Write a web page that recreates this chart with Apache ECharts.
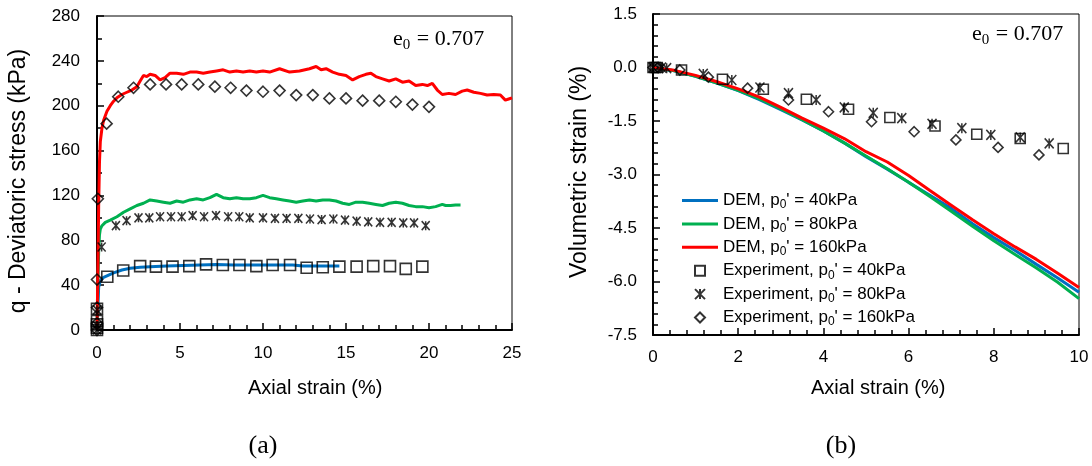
<!DOCTYPE html>
<html>
<head>
<meta charset="utf-8">
<script src="https://cdn.jsdelivr.net/npm/echarts@6/dist/echarts.min.js"></script>
<style>
html,body{margin:0;padding:0;background:#fff;}
#chart{width:1092px;height:466px;}
</style>
</head>
<body>
<div id="chart"></div>
<script>
// ---------- (a) deviatoric stress vs axial strain ----------
const qDem40 = [[0,0],[0.05,20],[0.1,38],[0.2,44],[0.4,47],[0.7,49],[1.0,51],[1.5,53.5],[2.0,55],[2.6,56],[3.2,56.5],[4.2,57],[5.2,57.5],[6.2,58],[7.2,58.5],[8.2,58],[9.2,58],[10.2,58],[11.2,58],[11.8,58],[12.4,57],[13.2,57],[14.0,57],[14.6,57]];
const qDem80 = [[0,0],[0.05,40],[0.1,70],[0.15,85],[0.2,90],[0.3,93],[0.5,96],[0.8,98],[1.2,101],[1.6,105],[2.0,108],[2.4,111],[2.8,113],[3.2,116],[3.6,115],[4.0,114],[4.4,113],[4.8,115],[5.2,114],[5.6,116],[6.0,117],[6.4,116],[6.8,118],[7.2,121],[7.6,118],[8.0,117],[8.4,118],[8.8,117],[9.2,117],[9.6,118],[10.0,120],[10.4,118],[10.8,117],[11.2,116],[11.6,115],[12.0,114],[12.4,115],[12.8,116],[13.2,115],[13.6,116],[14.0,116],[14.4,115],[14.8,113],[15.2,112],[15.6,114],[16.0,114],[16.4,113],[16.8,112],[17.2,111],[17.6,113],[18.0,114],[18.4,113],[18.8,111],[19.2,110],[19.6,110],[20.0,109],[20.4,110],[20.8,112],[21.0,111],[21.3,111],[21.6,111.5],[21.9,111.5]];
const qDem160 = [[0,0],[0.05,50],[0.1,110],[0.15,150],[0.2,168],[0.3,180],[0.4,187],[0.6,195],[0.8,200],[1.0,204],[1.2,207],[1.5,210],[1.8,212],[2.1,214],[2.4,217],[2.6,222],[2.8,227],[3.0,226],[3.2,228],[3.5,227],[3.8,223],[4.1,225],[4.4,229],[4.8,229],[5.2,228],[5.6,230],[6.0,230],[6.4,229],[6.8,230],[7.2,231],[7.6,232],[8.0,230],[8.4,231],[8.8,230],[9.2,231],[9.6,230],[10.0,231],[10.4,230],[11.0,233],[11.6,230],[12.2,231],[12.8,233],[13.2,235],[13.5,232],[13.8,233],[14.2,230],[14.6,228],[15.0,227],[15.4,223],[15.8,226],[16.2,228],[16.5,229],[16.8,226],[17.2,224],[17.6,222],[18.0,224],[18.4,221],[18.8,222],[19.2,218],[19.6,219],[19.9,218],[20.2,220],[20.5,214],[20.8,210],[21.2,211],[21.6,210],[22.0,213],[22.3,214],[22.7,212],[23.1,211],[23.5,209.5],[23.9,210],[24.3,209.5],[24.6,205],[24.8,206],[25,207]];
const qExp40 = [[0,0],[0,2],[0,5],[0,8],[0,19],[0.62,47.5],[1.58,53],[2.6,57],[3.55,56.5],[4.55,56.5],[5.56,57],[6.57,58.5],[7.58,58],[8.58,58],[9.6,57],[10.58,58],[11.63,58],[12.63,55.5],[13.6,56],[14.6,56.5],[15.64,56.5],[16.64,57],[17.65,57],[18.6,54.5],[19.6,56.5]];
const qExp80 = [[0,0],[0,4],[0,18],[0.28,74],[1.14,93],[1.78,97.5],[2.5,100],[3.15,100],[3.8,101],[4.46,101],[5.1,101],[5.76,102],[6.45,101],[7.17,102],[7.9,101],[8.57,101],[9.2,100],[10.0,100],[10.72,99.5],[11.42,99.5],[12.13,99.5],[12.83,99],[13.53,98.5],[14.24,99],[14.94,98],[15.64,97],[16.34,96.5],[17.05,96],[17.75,96],[18.45,95.5],[19.1,95.5],[19.8,93]];
const qExp160 = [[0,0],[0,6],[0,20],[0,45],[0.05,117],[0.58,184],[1.28,208],[2.2,216],[3.2,219],[4.16,219],[5.1,219],[6.1,219],[7.1,217],[8.05,216],[9.0,213.5],[10.0,212.5],[11.0,213.5],[12.0,209.5],[13.0,209.5],[14.0,206.5],[15.0,206.5],[16.0,204.5],[17.0,204.5],[18.0,203.5],[19.0,201],[20.0,199]];

// ---------- (b) volumetric strain vs axial strain ----------
const vDem40 = [[0,0],[0.5,-0.09],[1,-0.25],[1.5,-0.44],[2,-0.65],[2.5,-0.9],[3,-1.18],[3.5,-1.47],[4,-1.78],[4.5,-2.12],[5,-2.5],[5.5,-2.85],[6,-3.22],[6.5,-3.58],[7,-3.95],[7.5,-4.38],[8,-4.77],[8.5,-5.13],[9,-5.52],[9.5,-5.9],[10,-6.3]];
const vDem80 = [[0,0],[0.5,-0.09],[1,-0.25],[1.5,-0.44],[2,-0.64],[2.5,-0.88],[3,-1.16],[3.5,-1.46],[4,-1.78],[4.5,-2.12],[5,-2.48],[5.5,-2.84],[6,-3.22],[6.5,-3.62],[7,-4.03],[7.5,-4.45],[8,-4.86],[8.5,-5.24],[9,-5.62],[9.5,-6.02],[10,-6.48]];
const vDem160 = [[0,0],[0.5,-0.08],[1,-0.22],[1.5,-0.4],[2,-0.6],[2.5,-0.83],[3,-1.12],[3.5,-1.42],[4,-1.7],[4.5,-2.0],[5,-2.36],[5.5,-2.65],[6,-3.03],[6.5,-3.45],[7,-3.86],[7.5,-4.27],[8,-4.66],[8.5,-5.03],[9,-5.38],[9.5,-5.77],[10,-6.17]];
const vExp40 = [[0,0],[0.05,0],[0.1,0],[0.67,-0.07],[1.63,-0.33],[2.59,-0.61],[3.6,-0.89],[4.59,-1.17],[5.56,-1.4],[6.62,-1.64],[7.6,-1.87],[8.62,-1.99],[9.63,-2.27]];
const vExp80 = [[0,0],[0.2,0],[0.32,-0.02],[1.18,-0.18],[1.85,-0.35],[2.51,-0.56],[3.18,-0.72],[3.83,-0.91],[4.49,-1.12],[5.17,-1.27],[5.84,-1.42],[6.55,-1.58],[7.25,-1.7],[7.93,-1.89],[8.62,-1.96],[9.3,-2.13]];
const vExp160 = [[0,0],[0.12,0],[0.63,-0.07],[1.3,-0.27],[2.22,-0.58],[3.18,-0.91],[4.12,-1.24],[5.13,-1.52],[6.13,-1.8],[7.11,-2.03],[8.1,-2.24],[9.06,-2.45]];

const legendNames = ["DEM, p0' = 40kPa","DEM, p0' = 80kPa","DEM, p0' = 160kPa","Experiment, p0' = 40kPa","Experiment, p0' = 80kPa","Experiment, p0' = 160kPa"];

const BLUE = '#0070C0', GREEN = '#00B050', RED = '#FF0000';
const FONT = 'Liberation Sans, Arial, sans-serif';
const SERIF = 'Liberation Serif, Times New Roman, serif';
const STAR = 'path://M0,0L10,10M10,0L0,10M5,0L5,10';
const SQUARE = 'path://M0,0L10,0L10,10L0,10Z';
const DIAMOND = 'path://M5,0L10,5L5,10L0,5Z';
const LINEICON = 'path://M0,0L36,0L36,3L0,3Z';

function axisCommon(extra) {
  return Object.assign({
    type: 'value',
    axisLine: {show: true, onZero: false, lineStyle: {color: '#000', width: 2}},
    axisTick: {show: true, inside: true, length: 7, lineStyle: {color: '#000', width: 1.5}},
    minorTick: {show: true, length: 5, lineStyle: {color: '#000', width: 1.5}},
    splitLine: {show: false},
    axisLabel: {color: '#000', fontFamily: FONT, fontSize: 17}
  }, extra);
}
function minor(n) { return {show: true, splitNumber: n, length: 5, lineStyle: {color: '#000', width: 1.5}}; }
function label(margin, fmt) {
  const o = {color: '#000', fontFamily: FONT, fontSize: 17, margin};
  if (fmt) o.formatter = fmt;
  return o;
}

function lineSeries(name, data, color, xi) {
  return {name, type: 'line', data, xAxisIndex: xi, yAxisIndex: xi, symbol: 'none', showSymbol: false,
    lineStyle: {color, width: 3}, itemStyle: {color}, z: 2};
}
function expSeries(name, data, symbol, size, xi) {
  return {name, type: 'scatter', data, xAxisIndex: xi, yAxisIndex: xi, symbol, symbolSize: size,
    itemStyle: {color: 'rgba(0,0,0,0)', borderColor: '#000', borderWidth: 1.6}, z: 3};
}

const chart = echarts.init(document.getElementById('chart'), null, {renderer: 'canvas'});

const option = {
  backgroundColor: '#fff',
  animation: false,
  grid: [
    {left: 97, top: 16, width: 415, height: 314, show: true, borderColor: '#000', borderWidth: 1, backgroundColor: 'transparent'},
    {left: 653, top: 14, width: 426, height: 321, show: true, borderColor: '#000', borderWidth: 1, backgroundColor: 'transparent'}
  ],
  xAxis: [
    axisCommon({gridIndex: 0, min: 0, max: 25, interval: 5, minorTick: minor(5), axisLabel: label(15)}),
    axisCommon({gridIndex: 1, min: 0, max: 10, interval: 2, minorTick: minor(5), axisLabel: label(14)})
  ],
  yAxis: [
    axisCommon({gridIndex: 0, min: 0, max: 280, interval: 40, minorTick: minor(2), axisLabel: label(17)}),
    axisCommon({gridIndex: 1, min: -7.5, max: 1.5, interval: 1.5, minorTick: minor(5), axisLabel: label(16, v => v.toFixed(1))})
  ],
  legend: {
    show: true,
    orient: 'vertical',
    left: 682, top: 190, padding: 0,
    itemWidth: 36, itemHeight: 10, itemGap: 2.4,
    data: [
      {name: legendNames[0], icon: LINEICON, itemStyle: {color: BLUE}},
      {name: legendNames[1], icon: LINEICON, itemStyle: {color: GREEN}},
      {name: legendNames[2], icon: LINEICON, itemStyle: {color: RED}},
      {name: legendNames[3], icon: SQUARE},
      {name: legendNames[4], icon: STAR},
      {name: legendNames[5], icon: DIAMOND}
    ],
    formatter: n => n.replace('p0', 'p{s|0}'),
    textStyle: {color: '#000', fontFamily: FONT, fontSize: 17, lineHeight: 20,
      rich: {s: {fontFamily: FONT, fontSize: 12, lineHeight: 20, padding: [9, 0, 0, 0]}}}
  },
  series: [
    lineSeries(legendNames[0], qDem40, BLUE, 0),
    lineSeries(legendNames[1], qDem80, GREEN, 0),
    lineSeries(legendNames[2], qDem160, RED, 0),
    expSeries(legendNames[3], qExp40, SQUARE, 11, 0),
    expSeries(legendNames[4], qExp80, STAR, [8, 9], 0),
    expSeries(legendNames[5], qExp160, DIAMOND, 11, 0),
    lineSeries(legendNames[0], vDem40, BLUE, 1),
    lineSeries(legendNames[1], vDem80, GREEN, 1),
    lineSeries(legendNames[2], vDem160, RED, 1),
    expSeries(legendNames[3], vExp40, SQUARE, 10, 1),
    expSeries(legendNames[4], vExp80, STAR, [9, 10], 1),
    expSeries(legendNames[5], vExp160, DIAMOND, 10, 1)
  ],
  graphic: [
    {type: 'text', left: 321 - 73, top: 378, style: {text: 'Axial strain (%)', fontFamily: FONT, fontSize: 20, fill: '#000'}},
    {type: 'text', left: 884 - 73, top: 378, style: {text: 'Axial strain (%)', fontFamily: FONT, fontSize: 20, fill: '#000'}},
    {type: 'text', x: 19, y: 181, rotation: Math.PI / 2, style: {text: 'q - Deviatoric stress (kPa)', fontFamily: FONT, fontSize: 23, fill: '#000', align: 'center', verticalAlign: 'middle'}},
    {type: 'text', x: 580, y: 172, rotation: Math.PI / 2, style: {text: 'Volumetric strain (%)', fontFamily: FONT, fontSize: 23, fill: '#000', align: 'center', verticalAlign: 'middle'}},
    {type: 'text', x: 393, y: 28, style: {text: '{a|e}{s|0}{a| = 0.707}', rich: {a: {fontFamily: SERIF, fontSize: 22, fill: '#000', verticalAlign: 'top'}, s: {fontFamily: SERIF, fontSize: 15, fill: '#000', padding: [10, 1, 0, 0], verticalAlign: 'top'}}}},
    {type: 'text', x: 972, y: 23, style: {text: '{a|e}{s|0}{a| = 0.707}', rich: {a: {fontFamily: SERIF, fontSize: 22, fill: '#000', verticalAlign: 'top'}, s: {fontFamily: SERIF, fontSize: 15, fill: '#000', padding: [10, 1, 0, 0], verticalAlign: 'top'}}}},
    {type: 'text', x: 263, y: 446, style: {text: '(a)', fontFamily: SERIF, fontSize: 26, fill: '#000', align: 'center', verticalAlign: 'middle'}},
    {type: 'text', x: 841, y: 446, style: {text: '(b)', fontFamily: SERIF, fontSize: 26, fill: '#000', align: 'center', verticalAlign: 'middle'}}
  ]
};
chart.setOption(option);
</script>
</body>
</html>
